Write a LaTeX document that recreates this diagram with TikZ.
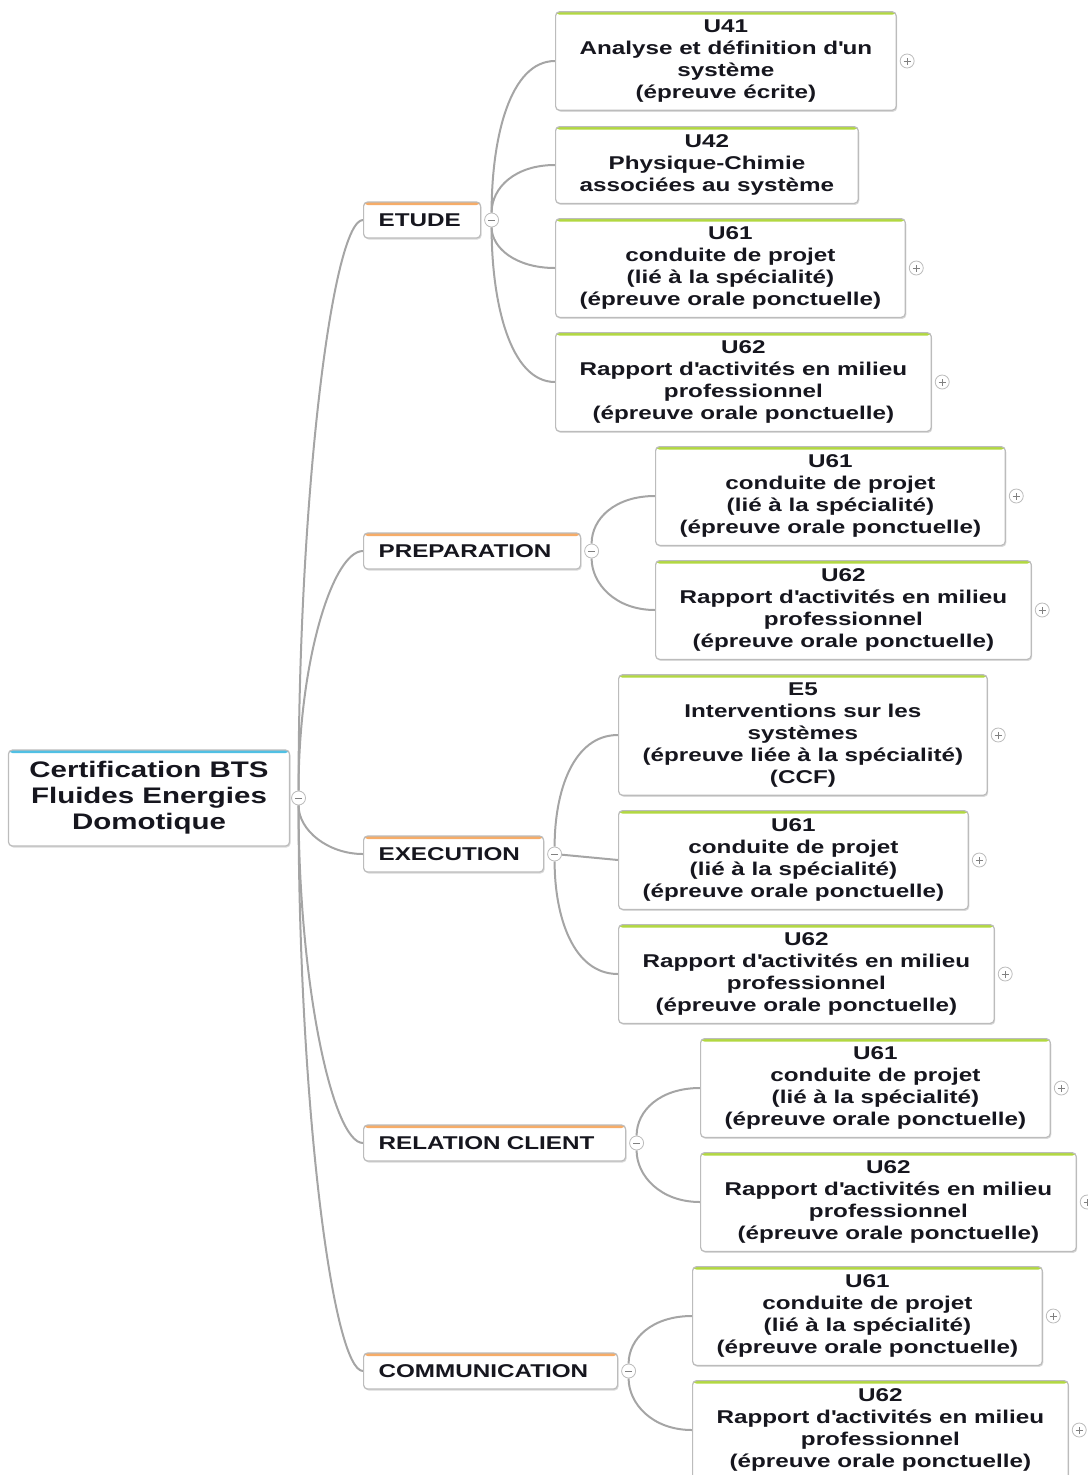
\documentclass[tikz,border=0pt]{standalone}
\usepackage{fontspec}
\setmainfont{Liberation Sans}[FakeStretch=1.31]
\usetikzlibrary{positioning, shadows, backgrounds}

\definecolor{linegray}{RGB}{165,165,165}
\definecolor{boxgray}{RGB}{188,188,188}
\definecolor{rootblue}{RGB}{80,192,228}
\definecolor{catorange}{RGB}{246,172,104}
\definecolor{leafgreen}{RGB}{178,216,64}
\definecolor{txt}{RGB}{22,22,30}

\begin{document}
\begin{tikzpicture}[x=1pt, y=-1pt,
    mapbox/.style={draw=boxgray, line width=1.2pt, fill=white, rounded corners=4pt,
        drop shadow={shadow xshift=1pt, shadow yshift=-1.5pt, opacity=.3},
        text=txt,
        path picture={\fill[#1] (path picture bounding box.north west) rectangle ([yshift=-3pt]path picture bounding box.north east);}},
    rootbox/.style={mapbox=rootblue, align=center, inner xsep=21pt, minimum height=96pt,
        font=\bfseries\fontsize{22.5}{26}\selectfont},
    catbox/.style={mapbox=catorange, align=left, inner xsep=15pt, minimum height=36pt, anchor=west,
        font=\bfseries\fontsize{18.5}{22}\selectfont},
    leafbox/.style={mapbox=leafgreen, align=center, inner xsep=24pt, inner ysep=8pt, anchor=west,
        font=\bfseries\fontsize{18.5}{22}\selectfont},
    btn/.style={circle, draw=boxgray, line width=.8pt, fill=white, minimum size=14pt, inner sep=0pt},
    foldbtn/.style={btn, path picture={\draw[gray, line width=1pt]
        ([xshift=-3.5pt]path picture bounding box.center) -- ([xshift=3.5pt]path picture bounding box.center);}},
    unfoldbtn/.style={btn, path picture={\draw[gray, line width=1pt]
        ([xshift=-3.5pt]path picture bounding box.center) -- ([xshift=3.5pt]path picture bounding box.center)
        ([yshift=-3.5pt]path picture bounding box.center) -- ([yshift=3.5pt]path picture bounding box.center);}},
    branch/.style={draw=linegray, line width=2pt}]
    \useasboundingbox (0,0) rectangle (1087,1475);

    % Root
    \node[rootbox] (root) at (149,798) {Certification BTS\\Fluides Energies\\Domotique};
    \node[foldbtn, right=1pt of root] (rootb) {};

    % Categories
    \node[catbox, text width=87pt] (etude) at (363,220) {ETUDE};
    \node[foldbtn, right=3pt of etude] (etudeb) {};
    \node[catbox, text width=187pt] (prep) at (363,551) {PREPARATION};
    \node[foldbtn, right=3pt of prep] (prepb) {};
    \node[catbox, text width=150pt] (exec) at (363,854) {EXECUTION};
    \node[foldbtn, right=3pt of exec] (execb) {};
    \node[catbox, text width=232pt] (relation) at (363,1143) {RELATION CLIENT};
    \node[foldbtn, right=3pt of relation] (relationb) {};
    \node[catbox, text width=224pt] (comm) at (363,1371) {COMMUNICATION};
    \node[foldbtn, right=3pt of comm] (commb) {};

    % ETUDE leaves
    \node[leafbox] (et41) at (555,61) {U41\\Analyse et définition d\textquotesingle un\\système\\(épreuve écrite)};
    \node[unfoldbtn, right=3pt of et41] (et41b) {};
    \node[leafbox] (et42) at (555,165) {U42\\Physique-Chimie\\associées au système};
    \node[leafbox] (et61) at (555,268) {U61\\conduite de projet\\(lié à la spécialité)\\(épreuve orale ponctuelle)};
    \node[unfoldbtn, right=3pt of et61] (et61b) {};
    \node[leafbox] (et62) at (555,382) {U62\\Rapport d\textquotesingle activités en milieu\\professionnel\\(épreuve orale ponctuelle)};
    \node[unfoldbtn, right=3pt of et62] (et62b) {};

    % PREPARATION leaves
    \node[leafbox] (pr61) at (655,496) {U61\\conduite de projet\\(lié à la spécialité)\\(épreuve orale ponctuelle)};
    \node[unfoldbtn, right=3pt of pr61] (pr61b) {};
    \node[leafbox] (pr62) at (655,610) {U62\\Rapport d\textquotesingle activités en milieu\\professionnel\\(épreuve orale ponctuelle)};
    \node[unfoldbtn, right=3pt of pr62] (pr62b) {};

    % EXECUTION leaves
    \node[leafbox] (ex5) at (618,735) {E5\\Interventions sur les\\systèmes\\(épreuve liée à la spécialité)\\(CCF)};
    \node[unfoldbtn, right=3pt of ex5] (ex5b) {};
    \node[leafbox] (ex61) at (618,860) {U61\\conduite de projet\\(lié à la spécialité)\\(épreuve orale ponctuelle)};
    \node[unfoldbtn, right=3pt of ex61] (ex61b) {};
    \node[leafbox] (ex62) at (618,974) {U62\\Rapport d\textquotesingle activités en milieu\\professionnel\\(épreuve orale ponctuelle)};
    \node[unfoldbtn, right=3pt of ex62] (ex62b) {};

    % RELATION CLIENT leaves
    \node[leafbox] (rc61) at (700,1088) {U61\\conduite de projet\\(lié à la spécialité)\\(épreuve orale ponctuelle)};
    \node[unfoldbtn, right=3pt of rc61] (rc61b) {};
    \node[leafbox] (rc62) at (700,1202) {U62\\Rapport d\textquotesingle activités en milieu\\professionnel\\(épreuve orale ponctuelle)};
    \node[unfoldbtn, right=3pt of rc62] (rc62b) {};

    % COMMUNICATION leaves
    \node[leafbox] (co61) at (692,1316) {U61\\conduite de projet\\(lié à la spécialité)\\(épreuve orale ponctuelle)};
    \node[unfoldbtn, right=3pt of co61] (co61b) {};
    \node[leafbox] (co62) at (692,1430) {U62\\Rapport d\textquotesingle activités en milieu\\professionnel\\(épreuve orale ponctuelle)};
    \node[unfoldbtn, right=3pt of co62] (co62b) {};

    % Branches
    \begin{scope}[on background layer]
        \draw[branch] (rootb.north) .. controls +(0,-300) and +(-30,0) .. (etude.west);
        \draw[branch] (rootb.north) .. controls +(0,-130) and +(-30,0) .. (prep.west);
        \draw[branch] (rootb.south) .. controls +(0,25) and +(-35,0) .. (exec.west);
        \draw[branch] (rootb.south) .. controls +(0,180) and +(-30,0) .. (relation.west);
        \draw[branch] (rootb.south) .. controls +(0,300) and +(-30,0) .. (comm.west);

        \draw[branch] (etudeb.north) .. controls +(0,-75) and +(-45,0) .. (et41.west);
        \draw[branch] (etudeb.north) .. controls +(0,-25) and +(-40,0) .. (et42.west);
        \draw[branch] (etudeb.south) .. controls +(0,20) and +(-40,0) .. (et61.west);
        \draw[branch] (etudeb.south) .. controls +(0,75) and +(-45,0) .. (et62.west);

        \draw[branch] (prepb.north) .. controls +(0,-25) and +(-40,0) .. (pr61.west);
        \draw[branch] (prepb.south) .. controls +(0,25) and +(-40,0) .. (pr62.west);

        \draw[branch] (execb.north) .. controls +(0,-55) and +(-45,0) .. (ex5.west);
        \draw[branch] (execb) -- (ex61.west);
        \draw[branch] (execb.south) .. controls +(0,55) and +(-45,0) .. (ex62.west);

        \draw[branch] (relationb.north) .. controls +(0,-25) and +(-40,0) .. (rc61.west);
        \draw[branch] (relationb.south) .. controls +(0,25) and +(-40,0) .. (rc62.west);

        \draw[branch] (commb.north) .. controls +(0,-25) and +(-40,0) .. (co61.west);
        \draw[branch] (commb.south) .. controls +(0,25) and +(-40,0) .. (co62.west);
    \end{scope}
\end{tikzpicture}
\end{document}
